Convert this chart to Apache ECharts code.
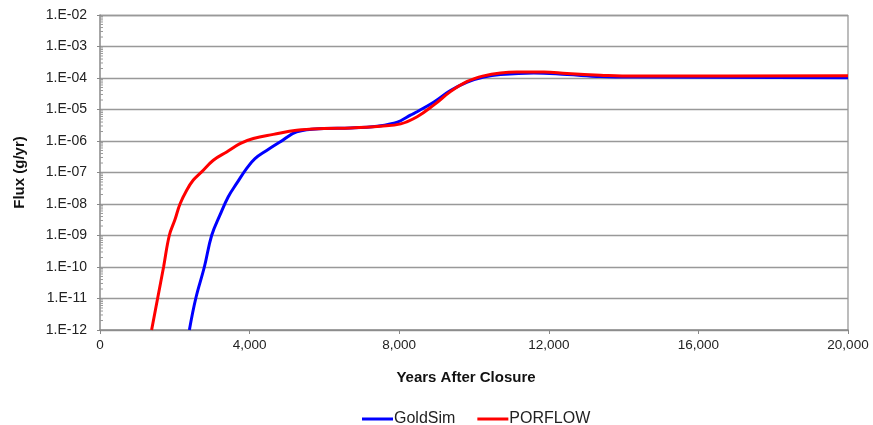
<!DOCTYPE html>
<html>
<head>
<meta charset="utf-8">
<script src="https://cdn.jsdelivr.net/npm/echarts@6/dist/echarts.min.js"></script>
<style>
  html, body { margin: 0; padding: 0; background: #fff; }
  #chart { width: 873px; height: 425px; }
</style>
</head>
<body>
<div id="chart"></div>
<script>
// values
const goldsimYears = [2390, 2560, 2790, 2985, 3209, 3430, 3654, 3922, 4144, 4456, 4813, 5260, 5990, 6700, 7410, 7860, 8040, 8300, 8480, 8930, 9370, 9820, 10260, 10710, 11600, 12490, 13380, 14270, 20000];
const goldsimFlux = [1e-12, 1e-11, 1e-10, 1e-9, 4.5e-9, 1.7e-8, 4.5e-8, 1.35e-7, 2.75e-7, 5e-7, 9.3e-7, 1.95e-6, 2.5e-6, 2.6e-6, 2.95e-6, 3.7e-6, 4.4e-6, 6.6e-6, 8.5e-6, 1.74e-5, 4e-5, 7.4e-5, 1.07e-4, 1.29e-4, 1.45e-4, 1.29e-4, 1.12e-4, 1.07e-4, 1.02e-4];

const porflowYears = [1380, 1540, 1700, 1853, 2005, 2139, 2318, 2495, 2718, 3030, 3388, 3743, 4100, 4635, 5260, 5990, 6700, 7500, 8040, 8480, 8930, 9370, 9820, 10260, 10710, 11150, 11870, 12490, 13380, 14270, 15250, 20000];
const porflowFlux = [1e-12, 1e-11, 1e-10, 1e-9, 3.2e-9, 1e-8, 2.75e-8, 5.75e-8, 1.05e-7, 2.45e-7, 4.5e-7, 8.3e-7, 1.2e-6, 1.62e-6, 2.2e-6, 2.5e-6, 2.6e-6, 2.95e-6, 3.5e-6, 5.9e-6, 1.4e-5, 3.7e-5, 7.8e-5, 1.17e-4, 1.45e-4, 1.55e-4, 1.55e-4, 1.38e-4, 1.23e-4, 1.15e-4, 1.15e-4, 1.17e-4];

const yMin = 1e-12, yMax = 1e-2;

// minor log ticks on the y axis (2..9 x 10^k)
let minorTicks = [];
for (let e = -12; e < -2; e++) {
    for (let m = 2; m <= 9; m++) minorTicks.push([0, m * Math.pow(10, e)]);
}

function pair(xs, ys) {
    return xs.map((x, i) => [x, ys[i]]);
}

const font = 'Arial, "Liberation Sans", sans-serif';
let chart = echarts.init(document.getElementById('chart'));
chart.setOption({
    animation: false,
    backgroundColor: '#fff',
    grid: {
        left: 100,
        right: 25,
        top: 15,
        bottom: 95
    },
    legend: {
        top: 406,
        left: 357,
        itemWidth: 31,
        itemHeight: 3,
        itemGap: 22,
        icon: 'rect',
        textStyle: { color: '#222', fontSize: 16, fontFamily: font, padding: [0, 0, 0, -4] },
        data: ['GoldSim', 'PORFLOW']
    },
    xAxis: {
        type: 'value',
        min: 0,
        max: 20000,
        interval: 4000,
        name: 'Years After Closure',
        nameLocation: 'middle',
        nameGap: 40,
        nameTextStyle: { color: '#111', fontSize: 15, fontWeight: 'bold', fontFamily: font, padding: [0, 16, 0, 0] },
        axisLine: { lineStyle: { color: '#888', width: 1.5 } },
        axisTick: { show: true, length: 4, lineStyle: { color: '#888' } },
        axisLabel: {
            color: '#222',
            fontSize: 13.5,
            fontFamily: font,
            margin: 8,
            formatter: (v) => v.toLocaleString('en-US')
        },
        splitLine: { show: false }
    },
    yAxis: {
        type: 'log',
        logBase: 10,
        min: yMin,
        max: yMax,
        name: 'Flux (g/yr)',
        nameLocation: 'middle',
        nameGap: 73,
        nameTextStyle: { color: '#111', fontSize: 15, fontWeight: 'bold', fontFamily: font },
        axisLine: { show: true, lineStyle: { color: '#888', width: 1.5 } },
        axisTick: { show: true, length: 3, lineStyle: { color: '#888' } },
        axisLabel: {
            color: '#222',
            fontSize: 14,
            fontFamily: font,
            margin: 13,
            formatter: (v) => {
                let e = Math.round(Math.log10(v));
                let a = Math.abs(e);
                return '1.E' + (e < 0 ? '-' : '+') + (a < 10 ? '0' + a : a);
            }
        },
        splitLine: { show: true, lineStyle: { color: '#999', width: 1.3 } }
    },
    series: [
        {
            type: 'custom',
            silent: true,
            clip: false,
            data: minorTicks,
            renderItem: (params, api) => {
                let p = api.coord([api.value(0), api.value(1)]);
                return {
                    type: 'line',
                    shape: { x1: p[0], y1: p[1], x2: p[0] + 3, y2: p[1] },
                    style: { stroke: '#999', lineWidth: 1 }
                };
            },
            z: 1
        },
        {
            name: 'GoldSim',
            type: 'line',
            data: pair(goldsimYears, goldsimFlux),
            showSymbol: false,
            smooth: 0.4,
            lineStyle: { color: '#0000ff', width: 3 },
            itemStyle: { color: '#0000ff' },
            z: 3
        },
        {
            name: 'PORFLOW',
            type: 'line',
            data: pair(porflowYears, porflowFlux),
            showSymbol: false,
            smooth: 0.4,
            lineStyle: { color: '#ff0000', width: 3 },
            itemStyle: { color: '#ff0000' },
            z: 4
        }
    ],
    // right border of the plot area
    graphic: [{
        type: 'line',
        shape: { x1: 848, y1: 15, x2: 848, y2: 330 },
        style: { stroke: '#999', lineWidth: 1.3 }
    }]
});
</script>
</body>
</html>
